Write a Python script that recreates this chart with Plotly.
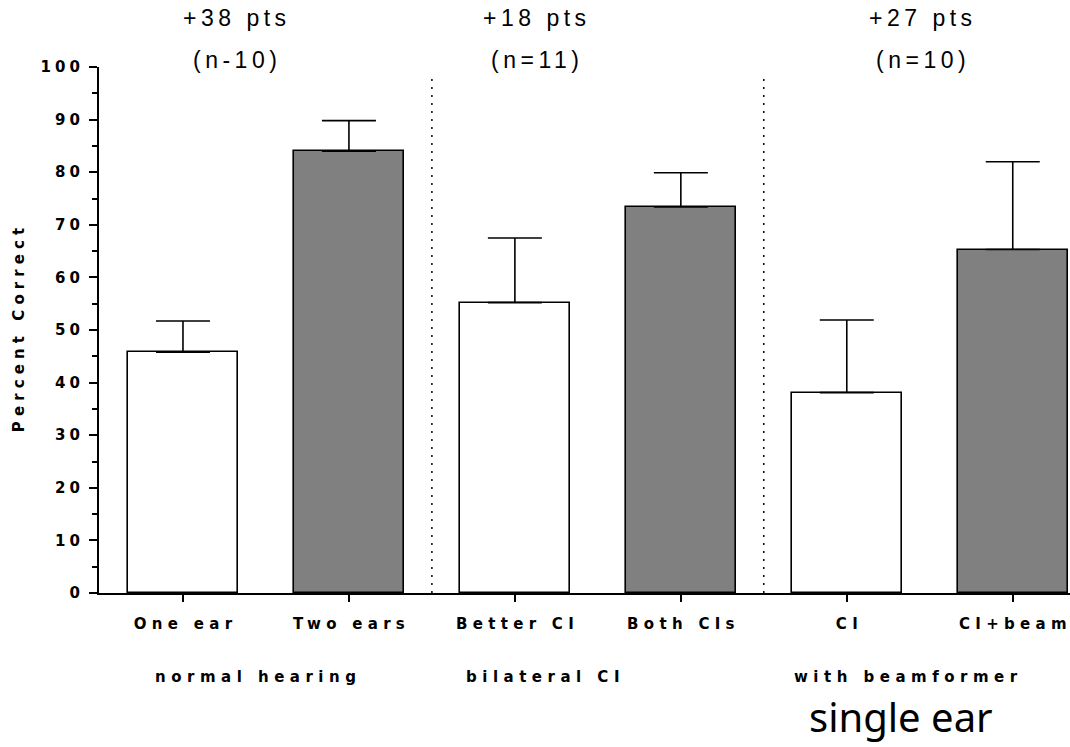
import plotly.graph_objects as go

# Mean percent correct and upper error (SD) for each listening condition
conditions = ["One ear", "Two ears", "Better CI", "Both CIs", "CI", "CI+beam"]
mean_correct = [45.8, 84.0, 55.2, 73.4, 38.1, 65.3]
error_up = [5.9, 5.8, 12.3, 6.5, 13.8, 16.7]
bar_colors = ["white", "#808080", "white", "#808080", "white", "#808080"]

groups = ["normal hearing", "bilateral CI", "with beamformer"]
gains = ["+38 pts", "+18 pts", "+27 pts"]
sample_sizes = ["(n-10)", "(n=11)", "(n=10)"]

y_ticks = [0, 10, 20, 30, 40, 50, 60, 70, 80, 90, 100]
y_minor = [5, 15, 25, 35, 45, 55, 65, 75, 85, 95]

W, H = 1070, 747
M_L, M_R, M_T, M_B = 99, 0, 67, 154
plot_h = H - M_T - M_B

BOLD = "DejaVu Sans, Verdana, sans-serif"
REG = "Liberation Sans, Arial, sans-serif"


def py(pixel_y):
    """Convert a pixel row of the page into paper y coordinates."""
    return (H - M_B - pixel_y) / plot_h


def spaced(text, px):
    """Add tracking between letters (none after the last one, so centring stays true)."""
    return f"<span style='letter-spacing:{px}px'>{text[:-1]}</span>{text[-1]}"


x_pos = list(range(len(conditions)))

fig = go.Figure()
fig.add_trace(go.Bar(
    x=x_pos,
    y=mean_correct,
    width=0.663,
    marker=dict(color=bar_colors, line=dict(color="black", width=1.6)),
    error_y=dict(type="data", symmetric=False, array=error_up,
                 arrayminus=[0] * len(error_up),
                 color="black", thickness=1.6, width=27),
    showlegend=False,
))

# Dotted separators between the three groups
for sep in [1.5, 3.5]:
    fig.add_shape(type="line", xref="x", yref="paper", x0=sep, x1=sep,
                  y0=0, y1=py(73), line=dict(color="black", width=1.5, dash="2px,6px"))

ann_font = dict(family=REG, size=23, color="black")
group_font = dict(family=BOLD, size=15, color="black", weight="bold")

gain_x = [0.313, 2.12, 4.446]
group_x = [0.434, 2.169, 4.355]
for gx, gain, n, grp, lx in zip(gain_x, gains, sample_sizes, groups, group_x):
    fig.add_annotation(x=gx, y=py(18), xref="x", yref="paper", text=spaced(gain, 4.5),
                       showarrow=False, font=ann_font, xanchor="center", yanchor="middle")
    fig.add_annotation(x=gx, y=py(60), xref="x", yref="paper", text=spaced(n, 4.5),
                       showarrow=False, font=ann_font, xanchor="center", yanchor="middle")
    fig.add_annotation(x=lx, y=py(677), xref="x", yref="paper", text=spaced(grp, 5.5),
                       showarrow=False, font=group_font, xanchor="center", yanchor="middle")

fig.add_annotation(x=4.325, y=py(746), xref="x", yref="paper", text="single ear",
                   showarrow=False, xanchor="center", yanchor="bottom",
                   font=dict(family="Noto Sans, Open Sans, sans-serif", size=40, color="black"))

fig.update_layout(
    width=W, height=H,
    margin=dict(l=M_L, r=M_R, t=M_T, b=M_B, autoexpand=False),
    plot_bgcolor="white", paper_bgcolor="white",
    bargap=0,
)
fig.update_xaxes(
    range=[-0.506, 5.345], automargin=False,
    tickmode="array", tickvals=x_pos, ticktext=[spaced(c, 5.3) for c in conditions],
    showline=True, linecolor="black", linewidth=2.2,
    ticks="outside", ticklen=7, tickwidth=2, tickcolor="black",
    ticklabelstandoff=9, ticklabeloverflow="allow",
    tickfont=dict(family=BOLD, size=15, color="black", weight="bold"),
    showgrid=False, zeroline=False, fixedrange=True,
)
fig.update_yaxes(
    range=[0, 100], automargin=False,
    tickmode="array", tickvals=y_ticks, ticktext=[spaced(str(v), 4) for v in y_ticks],
    showline=True, linecolor="black", linewidth=2.2,
    ticks="outside", ticklen=8, tickwidth=2, tickcolor="black",
    minor=dict(tickmode="array", tickvals=y_minor,
               ticks="outside", ticklen=5, tickwidth=2, tickcolor="black"),
    ticklabelstandoff=6,
    tickfont=dict(family=BOLD, size=15, color="black", weight="bold"),
    title=dict(text=spaced("Percent Correct", 5.1), standoff=12,
               font=dict(family=BOLD, size=15, color="black", weight="bold")),
    showgrid=False, zeroline=False,
)

fig.write_html("out.html")
